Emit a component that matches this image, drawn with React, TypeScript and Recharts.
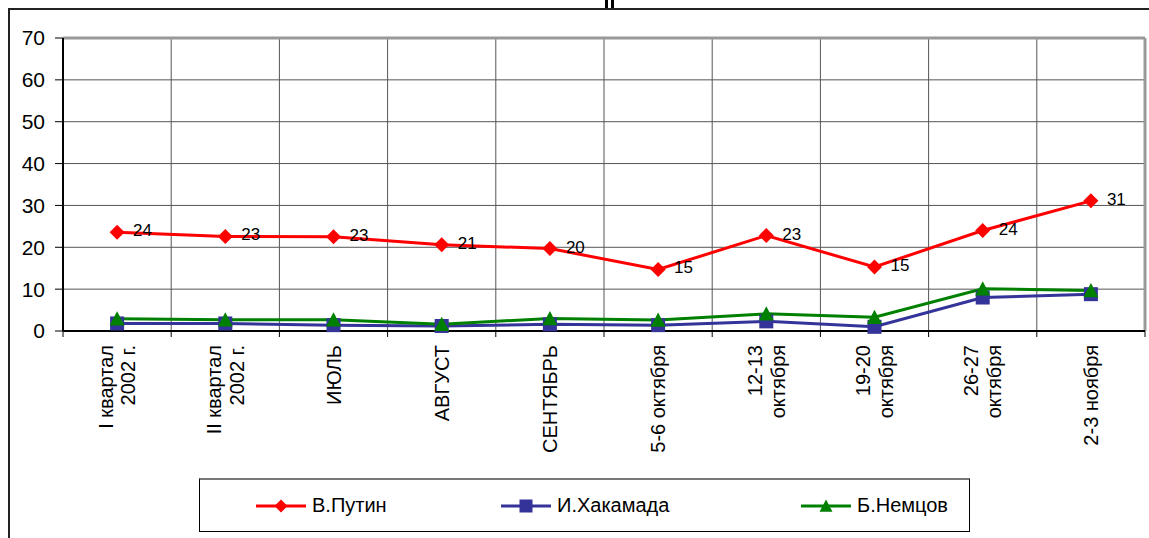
import React from "react";
import {
  LineChart,
  Line,
  XAxis,
  YAxis,
  CartesianGrid,
  Legend,
  LabelList,
  ReferenceLine,
} from "recharts";

const categories: string[][] = [
  ["I квартал", "2002 г."],
  ["II квартал", "2002 г."],
  ["ИЮЛЬ"],
  ["АВГУСТ"],
  ["СЕНТЯБРЬ"],
  ["5-6 октября"],
  ["12-13", "октября"],
  ["19-20", "октября"],
  ["26-27", "октября"],
  ["2-3 ноября"],
];
const putin = [23.6, 22.6, 22.5, 20.6, 19.7, 14.7, 22.8, 15.3, 24.0, 31.1];
const hakamada = [1.8, 1.8, 1.4, 1.2, 1.6, 1.4, 2.3, 1.0, 8.0, 8.8];
const nemtsov = [2.9, 2.7, 2.7, 1.6, 3.0, 2.6, 4.1, 3.3, 10.1, 9.7];
const yTicks = [0, 10, 20, 30, 40, 50, 60, 70];

const FONT = '"Liberation Sans", Arial, sans-serif';
const RED = "#ff0000";
const BLUE = "#333399";
const GREEN = "#008000";

// category i sits in the middle of slot [i, i+1]
const data = categories.map((c, i) => ({
  x: i + 0.5,
  putin: putin[i],
  hakamada: hakamada[i],
  nemtsov: nemtsov[i],
}));
const boundaryTicks = categories.map((_, i) => i).concat([categories.length]);
const centerTicks = categories.map((_, i) => i + 0.5);

function Diamond({ cx, cy, fill, s = 7.5 }: any) {
  if (cx == null || cy == null) return null;
  return (
    <path
      d={`M${cx},${cy - s} L${cx + s},${cy} L${cx},${cy + s} L${cx - s},${cy} Z`}
      fill={fill}
    />
  );
}
function Square({ cx, cy, fill, s = 7 }: any) {
  if (cx == null || cy == null) return null;
  return <rect x={cx - s} y={cy - s} width={s * 2} height={s * 2} fill={fill} />;
}
function Triangle({ cx, cy, fill, s = 7.5 }: any) {
  if (cx == null || cy == null) return null;
  return (
    <path
      d={`M${cx},${cy - s} L${cx + s},${cy + s * 0.9} L${cx - s},${cy + s * 0.9} Z`}
      fill={fill}
    />
  );
}

function EmptyTick() {
  return <g />;
}

function CategoryTick({ x, y, payload }: any) {
  const lines = categories[Math.floor(payload.value)] || [];
  const fs = 20;
  const lh = 22.5;
  return (
    <g transform={`translate(${x},${y + 6})`}>
      <text
        transform="rotate(-90)"
        textAnchor="end"
        fontSize={fs}
        fontFamily={FONT}
        fill="#000"
      >
        {lines.map((l, i) => (
          <tspan key={i} x={0} y={(i - (lines.length - 1) / 2) * lh + fs * 0.35}>
            {l}
          </tspan>
        ))}
      </text>
    </g>
  );
}

function PointLabel({ x, y, value }: any) {
  return (
    <text x={x + 16} y={y + 4} fontSize={17} fontFamily={FONT} fill="#000">
      {Math.round(value)}
    </text>
  );
}

const legendItems = [
  { name: "В.Путин", color: RED, Marker: Diamond, left: 56 },
  { name: "И.Хакамада", color: BLUE, Marker: Square, left: 301 },
  { name: "Б.Немцов", color: GREEN, Marker: Triangle, left: 601 },
];

function LegendBox() {
  return (
    <div
      style={{
        position: "absolute",
        left: 189,
        top: 468,
        width: 769,
        height: 51,
        border: "1px solid #000",
        borderTop: "2px solid #777",
        background: "#fff",
        fontFamily: FONT,
        fontSize: 20,
        color: "#000",
      }}
    >
      {legendItems.map(({ name, color, Marker, left }) => (
        <div
          key={name}
          style={{
            position: "absolute",
            left,
            top: 0,
            height: "100%",
            display: "flex",
            alignItems: "center",
          }}
        >
          <svg width={50} height={20} style={{ display: "block" }}>
            <line x1={0} y1={10} x2={50} y2={10} stroke={color} strokeWidth={3} />
            <Marker cx={25} cy={10} fill={color} s={6.5} />
          </svg>
          <span style={{ marginLeft: 6 }}>{name}</span>
        </div>
      ))}
    </div>
  );
}

export default function App() {
  return (
    <>
      <style>{`html,body{margin:0;padding:0;overflow:hidden;background:#fff}`}</style>
      <div style={{ position: "absolute", left: 605, top: 0, width: 3, height: 8, background: "#000" }} />
      <div style={{ position: "absolute", left: 611, top: 0, width: 3, height: 8, background: "#000" }} />
      <div
        style={{
          position: "absolute",
          left: 8,
          top: 8,
          width: 1139,
          height: 528,
          borderTop: "2px solid #222",
          borderLeft: "2px solid #222",
        }}
      >
        <LineChart
          width={1139}
          height={528}
          data={data}
          margin={{ top: 28, right: 4, left: 8, bottom: 51 }}
        >
          <CartesianGrid stroke="#555" strokeWidth={1} vertical={false} />
          {boundaryTicks.map((b) => (
            <ReferenceLine
              key={b}
              x={b}
              stroke={b === categories.length ? "#999" : "#555"}
              strokeWidth={b === categories.length ? 3 : 1}
            />
          ))}
          <ReferenceLine y={70} stroke="#999" strokeWidth={3} />
          <XAxis
            dataKey="x"
            type="number"
            domain={[0, 10]}
            ticks={boundaryTicks}
            interval={0}
            tick={<EmptyTick />}
            tickSize={6}
            height={6}
            axisLine={{ stroke: "#000", strokeWidth: 2 }}
            tickLine={{ stroke: "#000", strokeWidth: 1 }}
          />
          <XAxis
            xAxisId="lab"
            dataKey="x"
            type="number"
            domain={[0, 10]}
            ticks={centerTicks}
            interval={0}
            axisLine={false}
            tickLine={false}
            tickSize={0}
            height={150}
            tick={<CategoryTick />}
          />
          <YAxis
            domain={[0, 70]}
            ticks={yTicks}
            interval={0}
            width={45}
            tickSize={8}
            tickMargin={10}
            axisLine={{ stroke: "#000", strokeWidth: 2 }}
            tickLine={{ stroke: "#000", strokeWidth: 1 }}
            tick={{ fontSize: 21, fontFamily: FONT, fill: "#000" }}
          />
          <Line
            dataKey="putin"
            name="В.Путин"
            stroke={RED}
            strokeWidth={3}
            dot={(p: any) => <Diamond key={p.index} cx={p.cx} cy={p.cy} fill={RED} />}
            isAnimationActive={false}
          >
            <LabelList dataKey="putin" content={<PointLabel />} />
          </Line>
          <Line
            dataKey="hakamada"
            name="И.Хакамада"
            stroke={BLUE}
            strokeWidth={3}
            dot={(p: any) => <Square key={p.index} cx={p.cx} cy={p.cy} fill={BLUE} />}
            isAnimationActive={false}
          />
          <Line
            dataKey="nemtsov"
            name="Б.Немцов"
            stroke={GREEN}
            strokeWidth={3}
            dot={(p: any) => <Triangle key={p.index} cx={p.cx} cy={p.cy} fill={GREEN} />}
            isAnimationActive={false}
          />
          <Legend
            content={<LegendBox />}
            wrapperStyle={{ position: "absolute", left: 0, top: 0, width: 0, height: 0 }}
          />
        </LineChart>
      </div>
    </>
  );
}
